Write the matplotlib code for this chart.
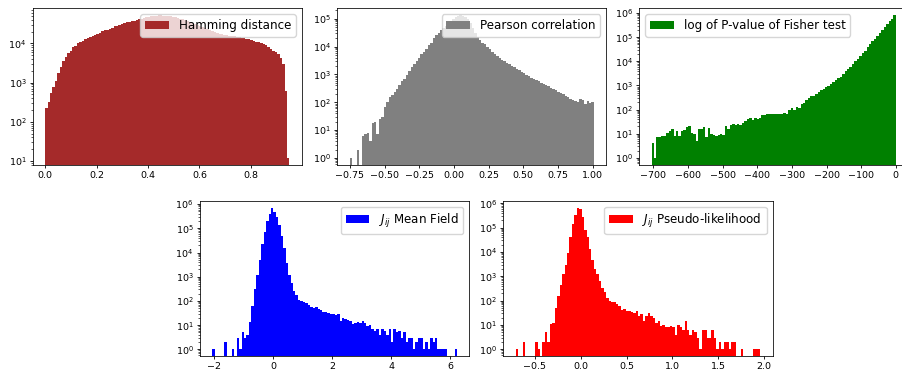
import numpy as np
import matplotlib
matplotlib.use("Agg")
import matplotlib.pyplot as plt

# ---- histogram data (bin ranges + counts per bin) ----
hamming_range = (0.0, 0.95)
hamming_counts = [
    225, 320, 540, 760, 1070, 1800, 2450, 3600, 4400, 5800,
    6400, 8300, 8800, 10400, 10600, 11700, 13000, 13900, 14800, 15900,
    16900, 17900, 19000, 20600, 21800, 22600, 24000, 25500, 27700, 28700,
    29800, 31700, 33000, 34300, 35700, 37100, 38500, 40000, 41600, 43300,
    45000, 46500, 48000, 49500, 50500, 51500, 52000, 52000, 51500, 51000,
    50000, 49000, 47500, 46000, 44500, 43000, 41500, 39500, 37500, 35500,
    33500, 31500, 29500, 27800, 26000, 24500, 23000, 21700, 20500, 19400,
    18400, 17600, 17000, 16500, 16000, 15700, 15500, 15100, 14700, 14300,
    14000, 13600, 13200, 12900, 12300, 11700, 11200, 10700, 10100, 9500,
    8900, 8300, 7100, 6600, 6200, 5400, 4200, 3000, 600, 12,
]

pearson_range = (-0.753, 1.008)
pearson_counts = [
    1, 0, 0, 2, 0, 6, 7, 8, 4, 18,
    20, 7, 25, 30, 70, 100, 150, 180, 240, 310,
    420, 560, 700, 950, 1300, 1800, 2300, 3000, 4000, 5200,
    6600, 8500, 11000, 14000, 20000, 26000, 32000, 38000, 46000, 56000,
    68000, 82000, 97000, 112000, 125000, 132000, 130000, 120000, 100000, 70000,
    45000, 30000, 22000, 17000, 14000, 12000, 10000, 8000, 6600, 5500,
    4700, 4000, 3400, 3000, 2600, 2300, 2000, 1800, 1600, 1400,
    1250, 1100, 950, 850, 770, 700, 620, 560, 500, 450,
    410, 370, 330, 300, 270, 240, 210, 190, 170, 150,
    135, 125, 115, 105, 135, 125, 85, 110, 95, 105,
]

fisher_range = (-705.0, 0.0)
fisher_counts = [
    4, 1, 7, 7, 8, 8, 11, 13, 15, 8,
    13, 8, 13, 14, 19, 21, 11, 10, 5, 15,
    15, 19, 7, 18, 10, 9, 8, 9, 10, 9,
    21, 15, 22, 26, 24, 26, 24, 28, 33, 40,
    43, 36, 46, 40, 46, 60, 60, 63, 63, 68,
    68, 63, 68, 63, 75, 68, 100, 120, 100, 125,
    120, 165, 195, 245, 315, 350, 370, 430, 560, 640,
    700, 830, 970, 1150, 1350, 1650, 2000, 2350, 2950, 3800,
    4800, 6000, 7700, 10000, 12500, 17000, 21500, 28000, 38000, 50000,
    68000, 85000, 117000, 150000, 200000, 260000, 360000, 460000, 580000, 800000,
]

meanfield_range = (-2.055, 6.235)
meanfield_counts = [
    1, 0, 0, 0, 0, 2, 0, 0, 1, 0,
    3, 1, 5, 3, 4, 14, 60, 300, 1200, 5000,
    22000, 70000, 200000, 400000, 700000, 480000, 300000, 140000, 50000, 15000,
    3800, 1200, 550, 260, 170, 110, 95, 90, 80, 70,
    55, 50, 55, 45, 42, 36, 34, 33, 30, 28,
    26, 30, 15, 20, 18, 17, 15, 11, 12, 13,
    12, 15, 12, 9, 10, 7, 6, 7, 4, 7,
    6, 4, 7, 2, 7, 5, 6, 3, 5, 2,
    3, 3, 1, 2, 3, 3, 1, 2, 1, 3,
    2, 3, 1, 1, 1, 1, 0, 0, 0, 1,
]

pseudo_range = (-0.712, 1.961)
pseudo_counts = [
    1, 0, 0, 2, 0, 0, 0, 0, 2, 1,
    0, 2, 5, 2, 11, 12, 52, 150, 440, 1300,
    3000, 9400, 43000, 140000, 330000, 650000, 570000, 265000, 83000, 40000,
    13600, 4600, 2100, 1200, 640, 340, 235, 125, 98, 87,
    85, 72, 63, 42, 46, 38, 36, 34, 31, 36,
    23, 28, 15, 23, 30, 24, 19, 12, 15, 9,
    10, 8, 8, 9, 8, 4, 10, 8, 6, 14,
    6, 4, 6, 5, 3, 1, 6, 6, 3, 3,
    6, 3, 1, 2, 1, 2, 2, 1, 2, 2,
    0, 0, 1, 0, 0, 0, 0, 1, 1, 1,
]

PANELS = [
    # (range, counts, colour, label, legend loc, [left, bottom, width, height])
    (hamming_range, hamming_counts, "brown", "Hamming distance", "upper right",
     [0.0365, 0.560, 0.2979, 0.4179]),
    (pearson_range, pearson_counts, "gray", "Pearson correlation", "upper right",
     [0.3740, 0.560, 0.2979, 0.4179]),
    (fisher_range, fisher_counts, "green", "log of P-value of Fisher test", "upper left",
     [0.7088, 0.560, 0.2979, 0.4179]),
    (meanfield_range, meanfield_counts, "blue", r"$J_{ij}$ Mean Field", "upper right",
     [0.2217, 0.0495, 0.2986, 0.4150]),
    (pseudo_range, pseudo_counts, "red", r"$J_{ij}$ Pseudo-likelihood", "upper right",
     [0.5580, 0.0495, 0.2986, 0.4150]),
]

fig = plt.figure(figsize=(9.02, 3.75), dpi=100)

for (lo, hi), counts, color, label, loc, rect in PANELS:
    ax = fig.add_axes(rect)
    counts = np.asarray(counts, dtype=float)
    edges = np.linspace(lo, hi, len(counts) + 1)
    ax.hist(edges[:-1], bins=edges, weights=counts, color=color,
            label=label, log=True)
    # log-space 5% margins around the bar tops, like the original autoscale
    pos = counts[counts > 0]
    lmin, lmax = np.log10(pos.min()), np.log10(pos.max())
    pad = 0.05 * (lmax - lmin)
    ax.set_ylim(10 ** (lmin - pad), 10 ** (lmax + pad))
    ax.tick_params(which="major", labelsize=6.8, length=2.5, width=0.6, pad=2.2)
    ax.tick_params(axis="x", which="major", pad=1.5)
    ax.tick_params(which="minor", length=1.4, width=0.45)
    for s in ax.spines.values():
        s.set_linewidth(0.56)
    ax.legend(loc=loc, fontsize=8.6, framealpha=0.8, borderaxespad=0.5)

fig.savefig("out.png", dpi=100)
